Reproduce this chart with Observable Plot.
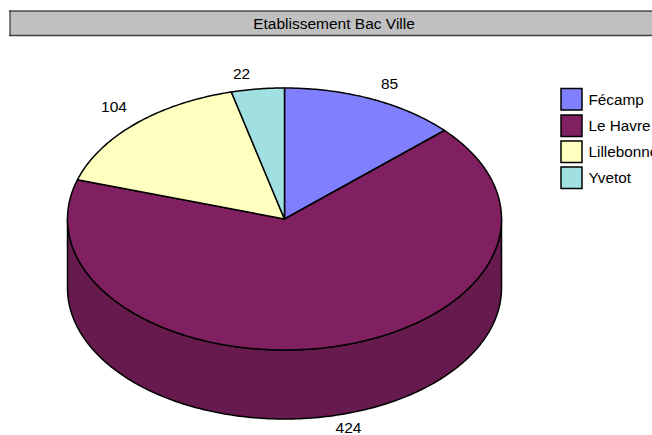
<!DOCTYPE html>
<html>
<head>
<meta charset="utf-8">
<script src="https://cdn.jsdelivr.net/npm/d3@7"></script>
<script src="https://cdn.jsdelivr.net/npm/@observablehq/plot@0.6"></script>
<style>
html,body{margin:0;padding:0;background:#fff;overflow:hidden}
svg{display:block}
</style>
</head>
<body>
<script>
const title = "Etablissement Bac Ville";
const cities = ["Fécamp", "Le Havre", "Lillebonne", "Yvetot"];
const counts = [85, 424, 104, 22];
const colors = ["#8080ff", "#802060", "#ffffc0", "#a0e0e0"];
const wallColor = "#661a4d";
// the reference's 3D projection shifts each slice's closing edge slightly (degrees)
const edgeShift = [-0.7, -1.1, -1.7, 0];

// layout (pixels), applied only through the scales
const W = 652, H = 435;
const cx = 284, cy = 218.5, rx = 217, ry = 131, depth = 69 / 131;

// x, y scales work in unit-ellipse coordinates
const ux = px => (px - cx) / rx;
const uy = py => (cy - py) / ry;

const total = d3.sum(counts);
let cum = 0, prevEnd = 0;
const slicePts = [];
counts.forEach((v, i) => {
  const a0 = prevEnd;
  cum += v;
  const a1 = (cum / total * 360 + edgeShift[i]) * Math.PI / 180;
  prevEnd = a1;
  const n = Math.max(8, Math.ceil((a1 - a0) * 90));
  slicePts.push({city: cities[i], x: 0, y: 0});
  for (let k = 0; k <= n; k++) {
    const a = a0 + (a1 - a0) * k / n;
    slicePts.push({city: cities[i], x: Math.sin(a), y: Math.cos(a)});
  }
  slicePts.push({city: cities[i], x: 0, y: 0});
});

// visible front wall of the disc
const wallPts = [];
for (let k = 0; k <= 180; k++) {
  const a = Math.PI * k / 180 + Math.PI / 2;
  wallPts.push({x: Math.sin(a), y: Math.cos(a)});
}
for (let k = 180; k >= 0; k--) {
  const a = Math.PI * k / 180 + Math.PI / 2;
  wallPts.push({x: Math.sin(a), y: Math.cos(a) - depth});
}
wallPts.push(wallPts[0]);

// label anchor points in pixels, one per category
const labelPx = [[389, 84], [348, 428], [113.5, 107], [241, 74]];
const labels = counts.map((v, i) => ({text: String(v), x: ux(labelPx[i][0]), y: uy(labelPx[i][1])}));

const swatchTop = [88.5, 115, 141, 167];
const legend = cities.map((c, i) => ({
  city: c,
  x1: ux(561), x2: ux(582),
  y1: uy(swatchTop[i]), y2: uy(swatchTop[i] + 21.5),
  tx: ux(588), ty: uy(swatchTop[i] + 11)
}));

const font = "Liberation Sans, Arial, sans-serif";
const chart = Plot.plot({
  width: W, height: H,
  margin: 0,
  style: {fontFamily: font, background: "#fff", overflow: "hidden"},
  x: {domain: [ux(0), ux(W)], range: [0, W], axis: null},
  y: {domain: [uy(H), uy(0)], range: [H, 0], axis: null},
  color: {domain: cities, range: colors},
  marks: [
    // title bar
    Plot.rect([0], {x1: ux(9.5), x2: ux(664), y1: uy(11), y2: uy(35),
      fill: "#c0c0c0", stroke: "none"}),
    Plot.ruleY([uy(10.5)], {x1: ux(9), x2: ux(664), stroke: "#000", strokeWidth: 1}),
    Plot.ruleY([uy(35)], {x1: ux(9), x2: ux(664), stroke: "#404040", strokeWidth: 1.6}),
    Plot.ruleX([ux(9.5)], {y1: uy(10.5), y2: uy(35.5), stroke: "#202020", strokeWidth: 1}),
    Plot.text([title], {x: ux(333.5), y: uy(24), text: d => d, fontSize: 15.5, fill: "#000"}),

    // pie
    Plot.line(wallPts, {x: "x", y: "y", fill: wallColor, stroke: "#000", strokeWidth: 1.5, curve: "linear", strokeLinejoin: "round"}),
    Plot.line(slicePts, {x: "x", y: "y", z: "city", fill: "city", stroke: "#000", strokeWidth: 1.5, curve: "linear", strokeLinejoin: "round"}),
    Plot.text(labels, {x: "x", y: "y", text: "text", fontSize: 15.5, fill: "#000"}),

    // legend
    Plot.rect(legend, {x1: "x1", x2: "x2", y1: "y1", y2: "y2", fill: "city", stroke: "#000", strokeWidth: 1.5}),
    Plot.text(legend, {x: "tx", y: "ty", text: "city", textAnchor: "start", fontSize: 15.3, fill: "#000"})
  ]
});
document.body.appendChild(chart);
</script>
</body>
</html>
